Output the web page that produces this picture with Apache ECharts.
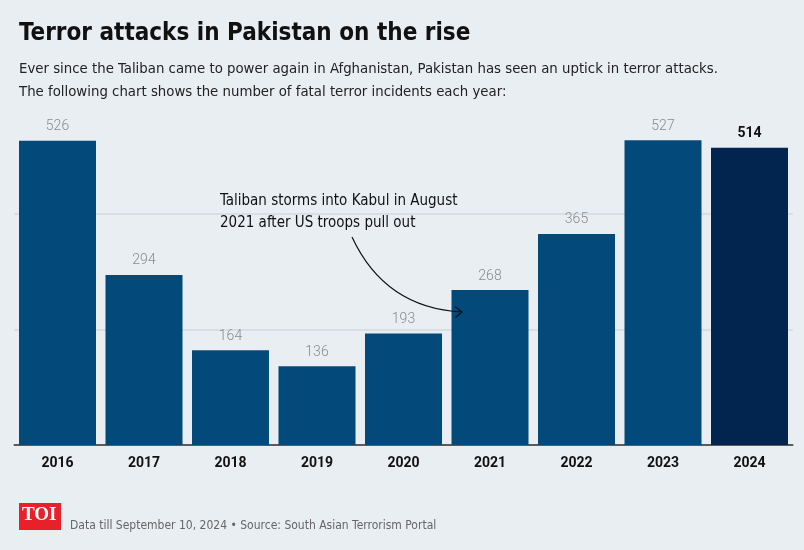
<!DOCTYPE html>
<html>
<head>
<meta charset="utf-8">
<script src="https://cdn.jsdelivr.net/npm/echarts@6/dist/echarts.min.js"></script>
<style>
html,body{margin:0;padding:0;background:#e9eef3;}
#chart{width:804px;height:550px;}
</style>
</head>
<body>
<div id="chart"></div>
<script>
const years = ['2016','2017','2018','2019','2020','2021','2022','2023','2024'];
const incidents = [526, 294, 164, 136, 193, 268, 365, 527, 514];
const highlightYear = '2024';
const yTicks = [0, 200, 400, 600];

const titleText = 'Terror attacks in Pakistan on the rise';
const subtitleText = 'Ever since the Taliban came to power again in Afghanistan, Pakistan has seen an uptick in terror attacks.\nThe following chart shows the number of fatal terror incidents each year:';
const noteText = 'Taliban storms into Kabul in August\n2021 after US troops pull out';
const sourceText = 'Data till September 10, 2024 \u2022 Source: South Asian Terrorism Portal';

const NARROW = "'Liberation Sans Narrow', 'DejaVu Sans Condensed', 'Roboto', sans-serif";
const BAR = '#034a7a';
const BAR_HI = '#01254e';

const chart = echarts.init(document.getElementById('chart'), null, {renderer:'canvas'});

const seriesData = years.map((y, i) => {
  const hi = y === highlightYear;
  return {
    value: incidents[i],
    itemStyle: {color: hi ? BAR_HI : BAR},
    label: hi ? {color:'#111', fontWeight:'bold', fontFamily:'Roboto, sans-serif', fontSize:14} : undefined
  };
});

chart.setOption({
  backgroundColor: '#e9eef3',
  animation: false,
  title: [
    {text: titleText, left: 19, top: 22, padding: 0,
     textStyle:{fontFamily: NARROW, fontWeight:'bold', fontSize:24, color:'#111'}},
    {text: subtitleText, left: 19, top: 57.5, padding: 0,
     textStyle:{fontFamily: NARROW, fontWeight:'normal', fontSize:14.8, lineHeight:23, color:'#222'}},
    {text: noteText, left: 220, top: 190, padding: 0,
     textStyle:{fontFamily: NARROW, fontWeight:'normal', fontSize:15, lineHeight:22, color:'#111'}},
    {text: sourceText, left: 70, top: 519.5, padding: 0,
     textStyle:{fontFamily: NARROW, fontWeight:'normal', fontSize:12, color:'#666'}}
  ],
  graphic: [
    {type:'rect', left:19, top:503, shape:{width:42, height:27}, style:{fill:'#e8202a'}},
    {type:'text', left:22, top:506, style:{text:'TOI', fill:'#fff', font:'bold 19px "Liberation Serif", "DejaVu Serif", serif'}},
    {type:'bezierCurve', shape:{x1:352, y1:237, x2:462, y2:312, cpx1:385, cpy1:308},
     style:{stroke:'#111', lineWidth:1.2, fill:null}, z: 10},
    {type:'polyline', shape:{points:[[455,306.5],[462,312],[455.5,317.5]]},
     style:{stroke:'#111', lineWidth:1.2, fill:null}, z: 10}
  ],
  grid: {left: 14.25, right: 11.25, top: 98, bottom: 105, containLabel:false},
  xAxis: {
    type:'category', data: years,
    axisLine:{show:true, lineStyle:{color:'#2b2b2b', width:1.5}},
    axisTick:{show:false},
    axisLabel:{color:'#111', fontWeight:'bold', fontSize:14, fontFamily:'Roboto, sans-serif', margin:11}
  },
  yAxis: {
    type:'value', min: yTicks[0], max: yTicks[yTicks.length-1], interval: yTicks[1]-yTicks[0],
    axisLine:{show:false}, axisTick:{show:false}, axisLabel:{show:false},
    splitLine:{show:true, lineStyle:{color:['rgba(0,0,0,0)','#d3d9df','#d3d9df','rgba(0,0,0,0)'], width:1.5}}
  },
  series: [{
    type:'bar', data: seriesData, barWidth: 77, z: 2,
    label:{show:true, position:'top', distance:7, color:'#8a8a8a', fontSize:14, fontFamily:'Roboto, sans-serif', fontWeight:300}
  }]
});
</script>
</body>
</html>
